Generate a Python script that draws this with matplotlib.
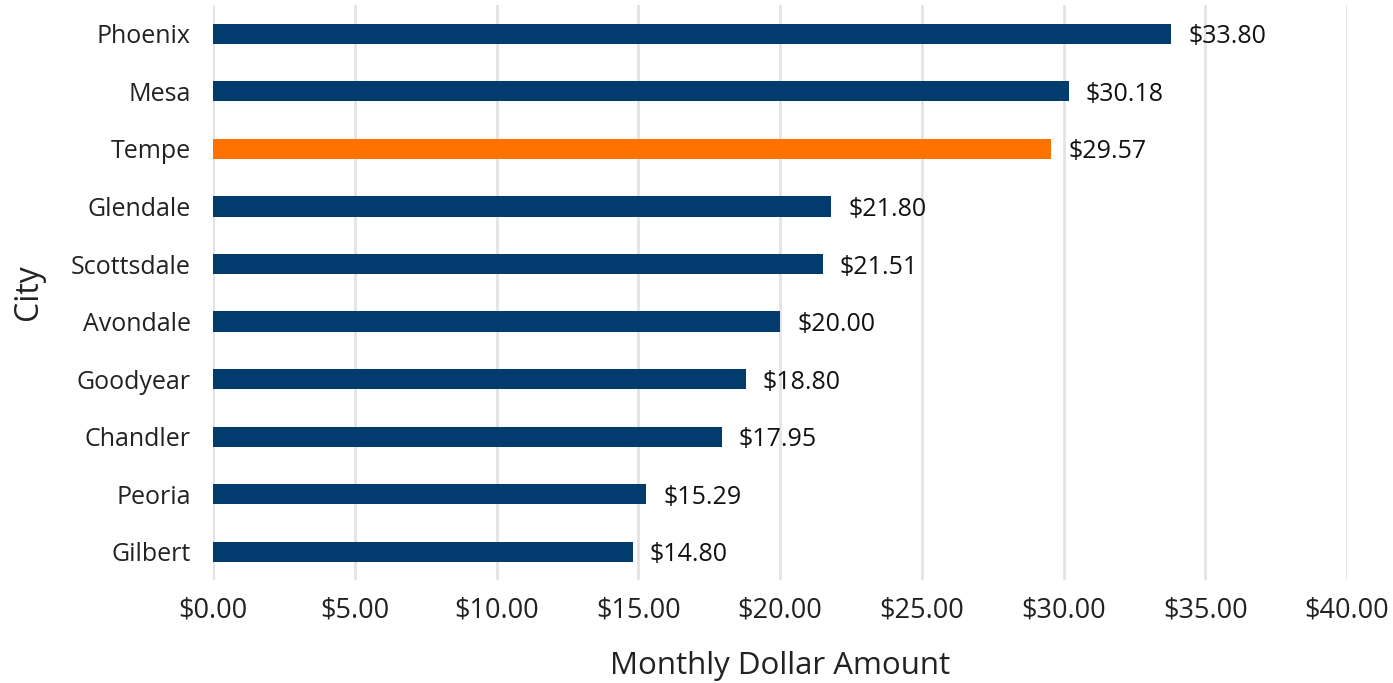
import matplotlib
matplotlib.use("Agg")
import matplotlib.pyplot as plt

cities = ["Gilbert", "Peoria", "Chandler", "Goodyear", "Avondale",
          "Scottsdale", "Glendale", "Tempe", "Mesa", "Phoenix"]
values = [14.80, 15.29, 17.95, 18.80, 20.00, 21.51, 21.80, 29.57, 30.18, 33.80]
highlight = "Tempe"
x_ticks = [0, 5, 10, 15, 20, 25, 30, 35, 40]

NAVY = "#023b6e"
ORANGE = "#ff7200"

plt.rcParams['font.family'] = ['Open Sans', 'DejaVu Sans']

fig = plt.figure(figsize=(13.93, 6.83), dpi=100)
ax = fig.add_axes([0.1529, 0.1508, 0.967 - 0.1529, 0.9927 - 0.1508])

colors = [ORANGE if c == highlight else NAVY for c in cities]
ypos = list(range(len(cities)))
ax.barh(ypos, values, height=0.35, color=colors, zorder=3)

for y, v in zip(ypos, values):
    ax.text(v + 0.6, y, f"${v:.2f}", va="center_baseline", ha="left",
            fontsize=18, color="#111111")

ax.set_yticks(ypos)
ax.set_yticklabels(cities, fontsize=18, color="#222222")
for lbl in ax.get_yticklabels():
    lbl.set_verticalalignment("center_baseline")
ax.set_xticks(x_ticks)
ax.set_xticklabels([f"${t:.2f}" for t in x_ticks], fontsize=19.5, color="#222222")
ax.set_xlim(0, 40)
ax.set_ylim(-0.49, 9.5)

ax.tick_params(axis="both", length=0)
ax.tick_params(axis="y", pad=16)
ax.tick_params(axis="x", pad=12)
for s in ax.spines.values():
    s.set_visible(False)
ax.grid(axis="x", color="#e3e3e3", linewidth=2, zorder=0)
ax.set_axisbelow(True)

ax.set_xlabel("Monthly Dollar Amount", fontsize=22.5, color="#222222", labelpad=19)
ax.set_ylabel("City", fontsize=23, color="#222222", labelpad=19)

fig.savefig("out.png", dpi=100)
